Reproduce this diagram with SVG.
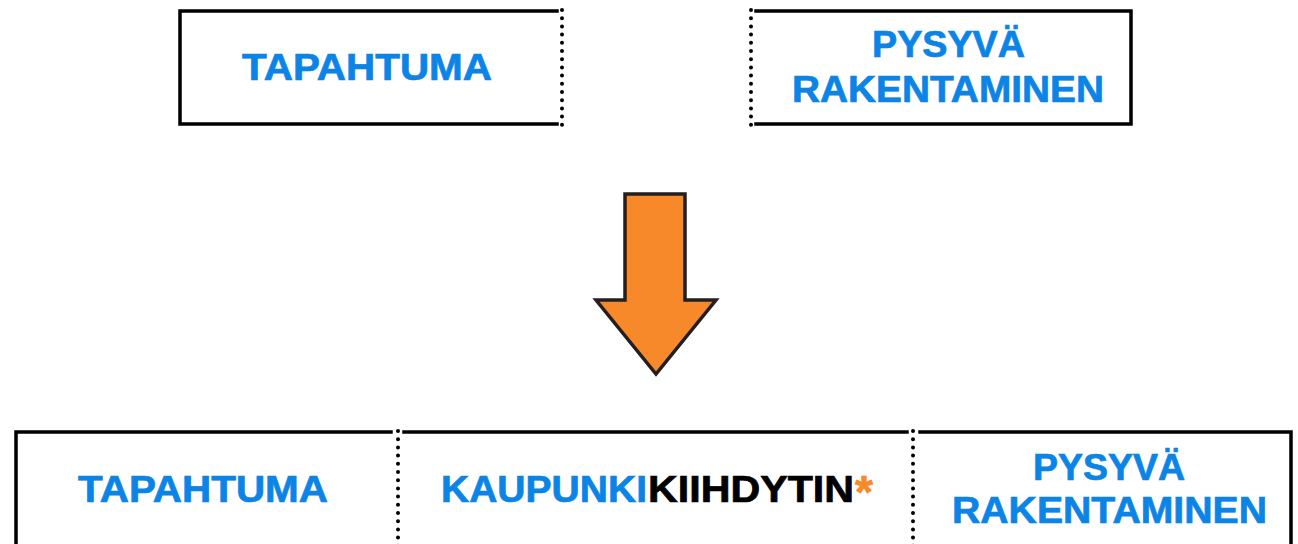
<svg xmlns="http://www.w3.org/2000/svg" width="1298" height="544" viewBox="0 0 1298 544">
  <style>
    .edge { fill: none; stroke: #000; stroke-width: 3.5; stroke-linecap: square; }
    .dots { fill: none; stroke: #000; stroke-width: 4; stroke-linecap: round; stroke-dasharray: 0 8.2; }
    .lbl { font-family: "Liberation Sans", Arial, sans-serif; font-weight: bold; font-size: 36px; fill: #0B84E6; stroke: #0B84E6; stroke-width: 0.7; }
    .dark { fill: #000; stroke: #000; }
    .star { fill: #F7892A; stroke: #F7892A; font-size: 46px; }
  </style>

  <!-- top left: event -->
  <g id="tapahtuma-top">
    <polyline class="edge" points="557,11 180,11 180,124 557,124"/>
    <line class="dots" x1="562" y1="10" x2="562" y2="126"/>
    <text class="lbl" x="242" y="80" textLength="250" lengthAdjust="spacingAndGlyphs">TAPAHTUMA</text>
  </g>

  <!-- top right: permanent construction -->
  <g id="pysyva-top">
    <polyline class="edge" points="756,11 1131,11 1131,124 756,124"/>
    <line class="dots" x1="751" y1="10" x2="751" y2="126"/>
    <text class="lbl" x="872" y="57" textLength="153" lengthAdjust="spacingAndGlyphs">PYSYVÄ</text>
    <text class="lbl" x="792" y="102" textLength="312" lengthAdjust="spacingAndGlyphs">RAKENTAMINEN</text>
  </g>

  <!-- transition arrow -->
  <g id="connectors">
    <polygon points="625,194 685,194 685,300 716,300 656,374 596,300 625,300"
             fill="#F7892A" stroke="#231F20" stroke-width="3.5" stroke-linejoin="miter"/>
  </g>

  <!-- bottom row: combined model -->
  <g id="bottom-row">
    <polyline class="edge" points="391,432 16,432 16,548"/>
    <line class="edge" x1="404" y1="432" x2="907" y2="432"/>
    <polyline class="edge" points="920,432 1291,432 1291,548"/>
    <line class="dots" x1="398" y1="431" x2="398" y2="548"/>
    <line class="dots" x1="913" y1="431" x2="913" y2="548"/>
  </g>

  <g id="tapahtuma-bottom">
    <text class="lbl" x="78" y="502" textLength="250" lengthAdjust="spacingAndGlyphs">TAPAHTUMA</text>
  </g>

  <g id="kaupunkikiihdytin">
    <text class="lbl" x="441" y="502" textLength="206" lengthAdjust="spacingAndGlyphs">KAUPUNKI</text>
    <text class="lbl dark" x="648" y="502" textLength="206" lengthAdjust="spacingAndGlyphs">KIIHDYTIN</text>
    <text class="lbl star" x="855" y="508">*</text>
  </g>

  <g id="pysyva-bottom">
    <text class="lbl" x="1033" y="480" textLength="152" lengthAdjust="spacingAndGlyphs">PYSYVÄ</text>
    <text class="lbl" x="952" y="523" textLength="315" lengthAdjust="spacingAndGlyphs">RAKENTAMINEN</text>
  </g>
</svg>
